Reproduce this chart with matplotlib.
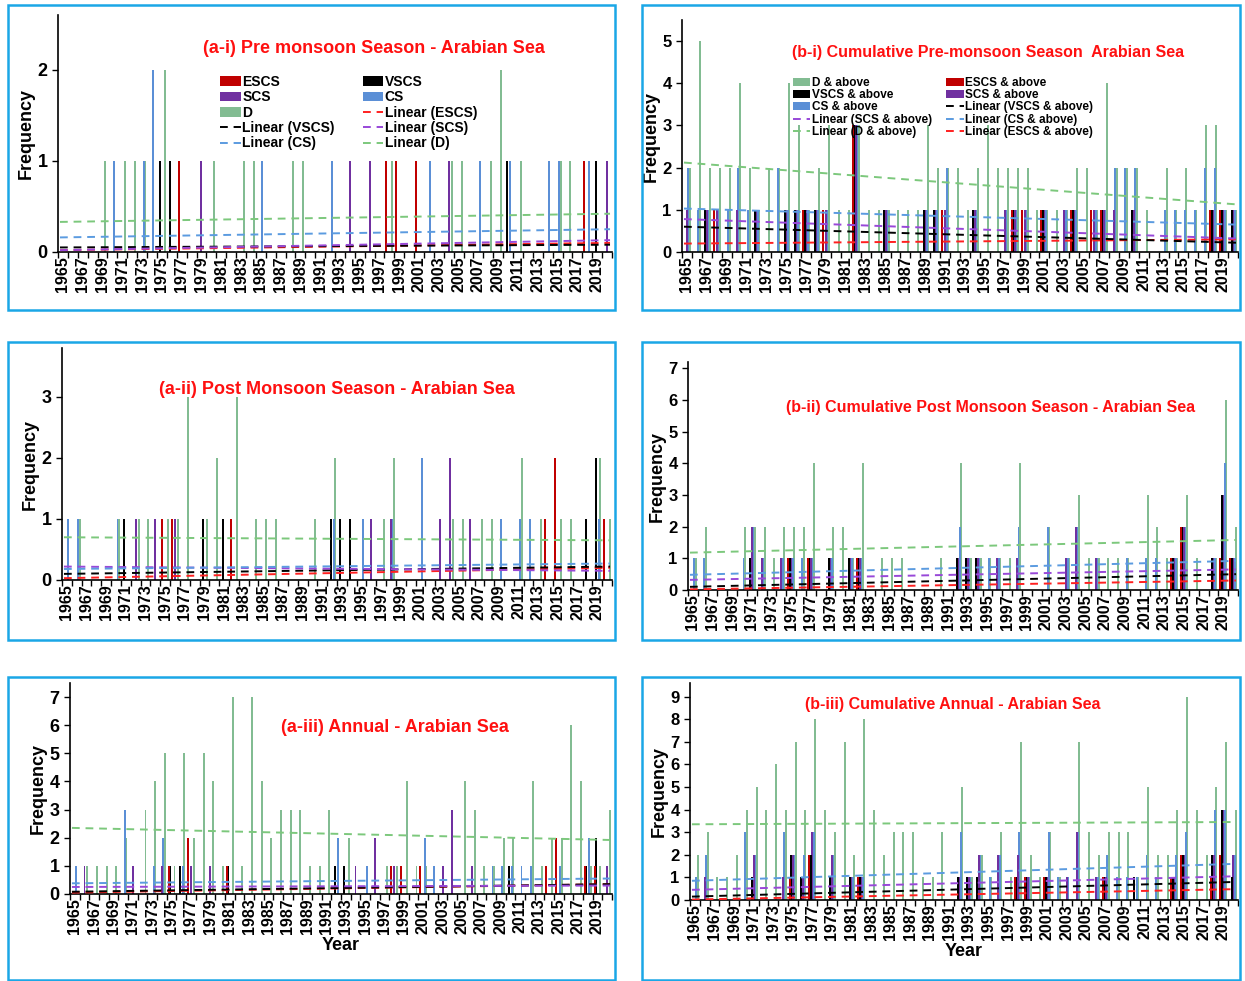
import matplotlib
matplotlib.use("Agg")
import matplotlib.pyplot as plt
import numpy as np
from matplotlib.patches import Rectangle

plt.rcParams['font.family'] = ['Liberation Sans', 'DejaVu Sans']
plt.rcParams['font.weight'] = 'bold'

years = list(range(1965, 2021))
cats = ['ESCS', 'VSCS', 'SCS', 'CS', 'D']
colors = {'ESCS': '#C00000', 'VSCS': '#000000', 'SCS': '#7030A0', 'CS': '#5B8FD6', 'D': '#82BC92'}
trend_colors = {'ESCS': '#FF2020', 'VSCS': '#000000', 'SCS': '#9848D8', 'CS': '#5B9BE0', 'D': '#7CC87C'}

# ---- (a-i) Pre monsoon ----
ai = {
    'ESCS': {1977: 1, 1998: 1, 1999: 1, 2001: 1, 2018: 1},
    'VSCS': {1975: 1, 1976: 1, 2010: 1, 2019: 1},
    'SCS': {1979: 1, 1994: 1, 1996: 1, 2004: 1, 2020: 1},
    'CS': {1970: 1, 1973: 1, 1974: 2, 1985: 1, 1992: 1, 2002: 1, 2007: 1, 2010: 1, 2014: 1, 2015: 1, 2018: 1},
    'D': {1969: 1, 1971: 1, 1972: 1, 1973: 1, 1975: 2, 1980: 1, 1983: 1, 1984: 1, 1988: 1, 1989: 1,
          1998: 1, 2004: 1, 2005: 1, 2008: 1, 2009: 2, 2011: 1, 2015: 1, 2016: 1},
}
ai_trend = {'ESCS': (0.02, 0.10), 'VSCS': (0.05, 0.08), 'SCS': (0.02, 0.13), 'CS': (0.16, 0.25), 'D': (0.33, 0.42)}

# ---- (b-i) Cumulative pre monsoon ----
bi = {
    'ESCS': {1968: 1, 1977: 1, 1979: 1, 1982: 3, 1991: 1, 1998: 1, 1999: 1, 2001: 1, 2004: 1, 2006: 1, 2007: 1, 2018: 1, 2019: 1},
    'VSCS': {1967: 1, 1972: 1, 1975: 1, 1976: 1, 1977: 1, 1978: 1, 1982: 3, 1985: 1, 1989: 1, 1990: 1, 1994: 1,
             1998: 1, 2001: 1, 2004: 1, 2007: 1, 2010: 1, 2018: 1, 2019: 1, 2020: 1},
    'SCS': {1965: 1, 1967: 1, 1968: 1, 1970: 1, 1972: 1, 1975: 1, 1976: 1, 1977: 1, 1978: 1, 1979: 1, 1982: 3,
            1985: 1, 1989: 1, 1990: 1, 1991: 1, 1994: 1, 1997: 1, 1998: 1, 1999: 1, 2001: 1, 2003: 1, 2004: 1,
            2006: 1, 2007: 1, 2008: 1, 2010: 1, 2018: 1, 2019: 1, 2020: 1},
    'CS': {1965: 2, 1966: 1, 1967: 1, 1968: 1, 1969: 1, 1970: 2, 1971: 1, 1972: 1, 1974: 2, 1975: 1, 1976: 1,
           1977: 1, 1978: 1, 1979: 1, 1982: 3, 1985: 1, 1989: 1, 1990: 1, 1991: 2, 1994: 1, 1997: 1, 1998: 1,
           1999: 1, 2001: 1, 2003: 1, 2004: 1, 2006: 1, 2007: 1, 2008: 2, 2009: 2, 2010: 2, 2013: 1, 2014: 1,
           2015: 1, 2016: 1, 2017: 2, 2018: 2, 2019: 1, 2020: 1},
    'D': {1965: 2, 1966: 5, 1967: 2, 1968: 2, 1969: 2, 1970: 4, 1971: 2, 1972: 1, 1973: 2, 1974: 2, 1975: 4,
          1976: 3, 1977: 1, 1978: 2, 1979: 3, 1980: 1, 1981: 1, 1982: 3, 1983: 1, 1984: 1, 1985: 1, 1986: 1,
          1987: 1, 1988: 1, 1989: 3, 1990: 2, 1991: 2, 1992: 2, 1993: 1, 1994: 2, 1995: 3, 1996: 2, 1997: 2,
          1998: 2, 1999: 2, 2000: 1, 2001: 1, 2002: 1, 2003: 1, 2004: 2, 2005: 2, 2006: 1, 2007: 4, 2008: 2,
          2009: 2, 2010: 2, 2011: 1, 2013: 2, 2014: 1, 2015: 2, 2016: 1, 2017: 3, 2018: 3, 2019: 1, 2020: 1},
}
bi_trend = {'ESCS': (0.2, 0.3), 'VSCS': (0.6, 0.22), 'SCS': (0.78, 0.32), 'CS': (1.03, 0.65), 'D': (2.12, 1.13)}

# ---- (a-ii) Post monsoon ----
aii = {
    'ESCS': {1975: 1, 1976: 1, 1982: 1, 2014: 1, 2015: 2, 2020: 1},
    'VSCS': {1971: 1, 1979: 1, 1981: 1, 1992: 1, 1993: 1, 1994: 1, 2018: 1, 2019: 2},
    'SCS': {1972: 1, 1974: 1, 1976: 1, 1996: 1, 1998: 1, 2003: 1, 2004: 2, 2006: 1},
    'CS': {1965: 1, 1966: 1, 1970: 1, 1992: 1, 1995: 1, 1998: 1, 2001: 2, 2009: 1, 2011: 1, 2012: 1, 2019: 1},
    'D': {1966: 1, 1970: 1, 1972: 1, 1973: 1, 1975: 1, 1976: 1, 1977: 3, 1979: 1, 1980: 2, 1982: 3, 1984: 1,
          1985: 1, 1986: 1, 1990: 1, 1992: 2, 1997: 1, 1998: 2, 2004: 1, 2005: 1, 2007: 1, 2008: 1, 2011: 2,
          2013: 1, 2015: 1, 2016: 1, 2019: 2, 2020: 1},
}
aii_trend = {'ESCS': (0.03, 0.2), 'VSCS': (0.1, 0.22), 'SCS': (0.22, 0.15), 'CS': (0.18, 0.27), 'D': (0.7, 0.65)}

# ---- (b-ii) Cumulative post monsoon ----
bii = {
    'ESCS': {1975: 1, 1977: 1, 1982: 1, 2014: 1, 2015: 2, 2019: 1, 2020: 1},
    'VSCS': {1971: 1, 1975: 1, 1977: 1, 1979: 1, 1981: 1, 1982: 1, 1992: 1, 1993: 1, 1994: 1, 2014: 1,
             2015: 2, 2018: 1, 2019: 3, 2020: 1},
    'SCS': {1971: 2, 1972: 1, 1974: 1, 1975: 1, 1977: 1, 1979: 1, 1981: 1, 1982: 1, 1992: 1, 1993: 1, 1994: 1,
            1996: 1, 1998: 1, 2003: 1, 2004: 2, 2006: 1, 2014: 1, 2015: 2, 2018: 1, 2019: 3, 2020: 1},
    'CS': {1965: 1, 1966: 1, 1970: 1, 1971: 2, 1972: 1, 1974: 1, 1975: 1, 1976: 1, 1977: 1, 1979: 1, 1981: 1,
           1982: 1, 1992: 2, 1993: 1, 1994: 1, 1995: 1, 1996: 1, 1998: 2, 2001: 2, 2003: 1, 2004: 2, 2006: 1,
           2009: 1, 2011: 1, 2012: 1, 2014: 1, 2015: 2, 2018: 1, 2019: 4, 2020: 1},
    'D': {1965: 1, 1966: 2, 1970: 2, 1971: 2, 1972: 2, 1973: 1, 1974: 2, 1975: 2, 1976: 2, 1977: 4, 1979: 2,
          1980: 2, 1981: 1, 1982: 4, 1984: 1, 1985: 1, 1986: 1, 1990: 1, 1992: 4, 1993: 1, 1994: 1, 1995: 1,
          1996: 1, 1997: 1, 1998: 4, 2001: 2, 2003: 1, 2004: 3, 2005: 1, 2006: 1, 2007: 1, 2008: 1, 2009: 1,
          2011: 3, 2012: 2, 2013: 1, 2014: 1, 2015: 3, 2016: 1, 2018: 1, 2019: 6, 2020: 2},
}
bii_trend = {'ESCS': (0.02, 0.3), 'VSCS': (0.1, 0.5), 'SCS': (0.32, 0.65), 'CS': (0.48, 0.92), 'D': (1.18, 1.58)}

# ---- (a-iii) Annual ----
aiii = {
    'ESCS': {1975: 1, 1977: 2, 1981: 1, 1998: 1, 1999: 1, 2001: 1, 2014: 1, 2015: 2, 2018: 1, 2019: 1},
    'VSCS': {1975: 1, 1976: 1, 1981: 1, 1992: 1, 1993: 1, 2010: 1, 2018: 1, 2019: 2},
    'SCS': {1966: 1, 1971: 1, 1974: 1, 1977: 1, 1979: 1, 1994: 1, 1996: 2, 1998: 1, 2003: 1, 2004: 3, 2006: 1, 2020: 1},
    'CS': {1965: 1, 1970: 3, 1973: 1, 1974: 2, 1976: 1, 1992: 2, 1995: 1, 2001: 2, 2002: 1, 2008: 1, 2009: 1,
           2010: 1, 2011: 1, 2012: 1, 2015: 1, 2018: 2},
    'D': {1966: 1, 1967: 1, 1968: 1, 1969: 1, 1970: 2, 1972: 3, 1973: 4, 1974: 5, 1975: 1, 1976: 5, 1977: 2,
          1978: 5, 1979: 4, 1980: 1, 1981: 7, 1982: 1, 1983: 7, 1984: 4, 1985: 2, 1986: 3, 1987: 3, 1988: 3,
          1989: 1, 1990: 1, 1991: 3, 1993: 2, 1997: 1, 1998: 1, 1999: 4, 2000: 1, 2001: 1, 2005: 4, 2006: 3,
          2007: 1, 2008: 1, 2009: 2, 2010: 2, 2012: 4, 2013: 1, 2014: 2, 2015: 2, 2016: 6, 2017: 4, 2018: 1,
          2019: 1, 2020: 3},
}
aiii_trend = {'ESCS': (0.05, 0.35), 'VSCS': (0.08, 0.35), 'SCS': (0.25, 0.3), 'CS': (0.38, 0.55), 'D': (2.35, 1.92)}

# ---- (b-iii) Cumulative annual ----
biii = {
    'ESCS': {1975: 1, 1977: 2, 1982: 1, 1998: 1, 1999: 1, 2001: 1, 2007: 1, 2014: 1, 2015: 2, 2018: 1, 2019: 2},
    'VSCS': {1971: 1, 1975: 2, 1976: 1, 1977: 2, 1979: 1, 1981: 1, 1982: 1, 1992: 1, 1993: 1, 1994: 1, 1998: 1,
             1999: 1, 2001: 1, 2007: 1, 2010: 1, 2014: 1, 2015: 2, 2018: 2, 2019: 4, 2020: 1},
    'SCS': {1966: 1, 1971: 2, 1974: 1, 1975: 2, 1976: 1, 1977: 3, 1979: 2, 1981: 1, 1982: 1, 1992: 1, 1993: 1,
            1994: 2, 1996: 2, 1998: 2, 1999: 1, 2001: 1, 2003: 1, 2004: 3, 2006: 1, 2007: 1, 2014: 1, 2015: 2,
            2018: 2, 2019: 4, 2020: 2},
    'CS': {1965: 1, 1966: 2, 1970: 3, 1971: 2, 1974: 3, 1975: 2, 1976: 2, 1977: 3, 1979: 2, 1981: 1, 1982: 1,
           1992: 3, 1993: 1, 1994: 2, 1995: 1, 1996: 2, 1998: 3, 1999: 1, 2001: 3, 2002: 1, 2003: 1, 2004: 3,
           2006: 1, 2007: 2, 2008: 1, 2009: 1, 2010: 1, 2011: 2, 2012: 1, 2014: 2, 2015: 3, 2018: 4, 2019: 4, 2020: 2},
    'D': {1965: 2, 1966: 3, 1967: 1, 1968: 1, 1969: 2, 1970: 4, 1971: 5, 1972: 4, 1973: 6, 1974: 4, 1975: 7,
          1976: 4, 1977: 8, 1978: 4, 1979: 3, 1980: 7, 1981: 2, 1982: 8, 1983: 4, 1984: 2, 1985: 3, 1986: 3,
          1987: 3, 1988: 1, 1989: 1, 1990: 3, 1992: 5, 1993: 1, 1994: 2, 1995: 1, 1996: 3, 1997: 1, 1998: 7,
          1999: 2, 2000: 1, 2001: 3, 2002: 1, 2004: 7, 2005: 3, 2006: 2, 2007: 3, 2008: 3, 2009: 3, 2010: 1,
          2011: 5, 2012: 2, 2013: 2, 2014: 4, 2015: 9, 2016: 4, 2017: 2, 2018: 5, 2019: 7, 2020: 4},
}
biii_trend = {'ESCS': (0.02, 0.48), 'VSCS': (0.15, 0.8), 'SCS': (0.45, 1.05), 'CS': (0.85, 1.6), 'D': (3.35, 3.45)}

W, H = 1245, 981
fig = plt.figure(figsize=(W / 100, H / 100), dpi=100)

def fr(x0, y0, x1, y1):
    return [x0 / W, 1 - y1 / H, (x1 - x0) / W, (y1 - y0) / H]

frames = [(8, 5, 615, 310), (642, 5, 1240, 310), (8, 342, 615, 640),
          (642, 342, 1240, 640), (8, 677, 615, 980), (642, 677, 1240, 980)]
for (x0, y0, x1, y1) in frames:
    fig.patches.append(Rectangle((x0 / W, 1 - y1 / H), (x1 - x0) / W, (y1 - y0) / H,
                                 transform=fig.transFigure, fill=False, edgecolor='#1AA7E6', lw=1.8))

panels = [
    (ai, ai_trend, fr(58, 15, 612, 252), 2.6, [0, 1, 2], '(a-i) Pre monsoon Season - Arabian Sea', (0.57, 0.86), False),
    (bi, bi_trend, fr(682, 20, 1238, 252), 5.5, range(6), '(b-i) Cumulative Pre-monsoon Season  Arabian Sea', (0.55, 0.86), True),
    (aii, aii_trend, fr(62, 348, 612, 580), 3.8, range(4), '(a-ii) Post Monsoon Season - Arabian Sea', (0.5, 0.82), False),
    (bii, bii_trend, fr(688, 362, 1238, 590), 7.2, range(8), '(b-ii) Cumulative Post Monsoon Season - Arabian Sea', (0.55, 0.8), True),
    (aiii, aiii_trend, fr(70, 683, 612, 894), 7.5, range(8), '(a-iii) Annual - Arabian Sea', (0.6, 0.79), False),
    (biii, biii_trend, fr(690, 683, 1238, 900), 9.6, range(10), '(b-iii) Cumulative Annual - Arabian Sea', (0.48, 0.9), True),
]

offsets = {'ESCS': -0.3, 'VSCS': -0.15, 'SCS': 0.0, 'CS': 0.15, 'D': 0.3}
labels_a = {c: c for c in cats}
labels_b = {c: c + ' & above' for c in cats}

for idx, (data, trend, rect, ymax, yt, title, tpos, cum) in enumerate(panels):
    ax = fig.add_axes(rect)
    x = np.arange(len(years))
    lab = labels_b if cum else labels_a
    handles = {}
    for c in ['D', 'CS', 'SCS', 'VSCS', 'ESCS']:
        vals = [data[c].get(y, 0) for y in years]
        b = ax.bar(x + offsets[c], vals, width=0.2, color=colors[c], label=lab[c], zorder=2, linewidth=0)
        handles[c] = b
    tl = {}
    for c in cats:
        s, e = trend[c]
        l, = ax.plot([x[0] - 0.3, x[-1] + 0.3], [s, e], ls=(0, (4, 3)), color=trend_colors[c], lw=1.4, zorder=3,
                     label='Linear (' + lab[c] + ')')
        tl[c] = l
    ax.set_xlim(-0.5, len(years) - 0.5)
    ax.set_ylim(0, ymax)
    ax.set_yticks(list(yt))
    ax.set_xticks(x[::2])
    ax.set_xticklabels([str(y) for y in years[::2]], rotation=90, fontsize=11.5, fontweight='bold')
    ax.set_xticks(np.arange(-0.5, len(years), 1), minor=True)
    ax.tick_params(axis='x', which='major', length=0, pad=3)
    ax.tick_params(axis='x', which='minor', length=4, width=1)
    ax.tick_params(axis='y', labelsize=13 if not cum else 12, length=4, width=1)
    for t in ax.get_yticklabels():
        t.set_fontweight('bold')
    for sp in ['top', 'right']:
        ax.spines[sp].set_visible(False)
    ax.spines['left'].set_linewidth(1.2)
    ax.spines['bottom'].set_linewidth(1.2)
    ax.set_ylabel('Frequency', fontsize=13, fontweight='bold', labelpad=2)
    ax.text(tpos[0], tpos[1], title, transform=ax.transAxes, color='#FF1010', fontsize=13 if not cum else 11.5,
            fontweight='bold', ha='center', va='center')
    if idx >= 4:
        ax.set_xlabel('Year', fontsize=13, fontweight='bold', labelpad=2)
    if idx == 0:
        order = [handles['ESCS'], handles['VSCS'], handles['SCS'], handles['CS'], handles['D'], tl['ESCS'],
                 tl['VSCS'], tl['SCS'], tl['CS'], tl['D']]
        hs = order[0::2] + order[1::2]
        ax.legend(hs, [h.get_label() for h in hs],
                  ncol=2, loc='upper left', bbox_to_anchor=(0.27, 0.8), frameon=False, fontsize=10,
                  handlelength=1.5, handletextpad=0.1, columnspacing=2.0, labelspacing=0.1)
    if idx == 1:
        order = [handles['D'], handles['ESCS'], handles['VSCS'], handles['SCS'], handles['CS'], tl['VSCS'],
                 tl['SCS'], tl['CS'], tl['D'], tl['ESCS']]
        hs = order[0::2] + order[1::2]
        ax.legend(hs, [h.get_label() for h in hs],
                  ncol=2, loc='upper left', bbox_to_anchor=(0.18, 0.8), frameon=False, fontsize=8.5,
                  handlelength=1.5, handletextpad=0.1, columnspacing=1.2, labelspacing=0.02)

fig.savefig('out.png', dpi=100)
